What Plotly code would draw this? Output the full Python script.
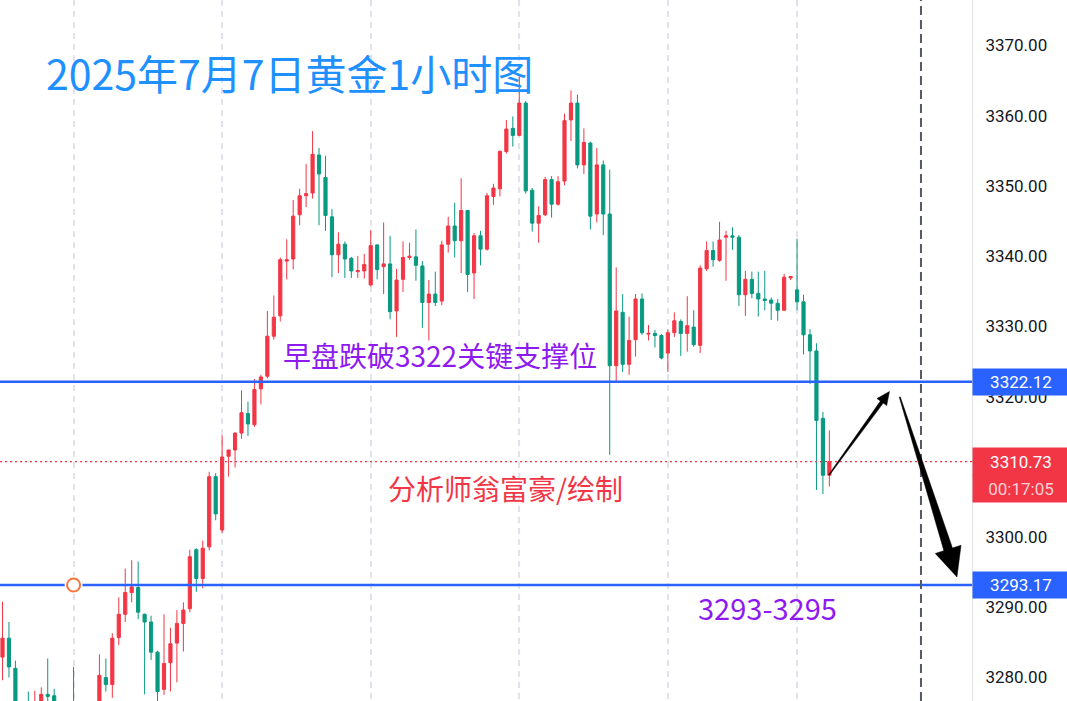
import math
import plotly.graph_objects as go

# ---- data: 1-hour gold bars (bar index 0..128) ----
opens = [3282.9, 3285.6, 3281.3, 3274.8, 3276.0, 3274.5, 3275.0, 3277.6, 3277.4, 3275.5,
         3273.0, 3276.2, 3273.5, 3272.0, 3274.0, 3275.5, 3280.0, 3279.0, 3285.7, 3289.0,
         3292.1, 3292.8, 3289.0, 3287.9, 3283.6, 3278.3, 3282.1, 3284.9, 3287.7, 3289.8,
         3298.2, 3294.1, 3298.6, 3308.6, 3301.0, 3311.5, 3312.4, 3314.8, 3317.6, 3316.0,
         3321.1, 3322.9, 3328.6, 3331.5, 3339.3, 3339.6, 3345.9, 3348.6, 3349.0, 3354.4,
         3351.2, 3345.6, 3340.2, 3341.7, 3339.7, 3337.8, 3337.9, 3335.9, 3341.6, 3338.5,
         3338.9, 3332.2, 3336.7, 3339.8, 3339.9, 3338.6, 3333.4, 3334.6, 3333.6, 3341.7,
         3344.3, 3342.2, 3346.5, 3337.6, 3342.9, 3341.0, 3348.5, 3349.6, 3354.9, 3358.2,
         3357.2, 3361.8, 3349.4, 3344.7, 3345.9, 3350.9, 3347.4, 3350.7, 3359.4, 3361.8,
         3353.0, 3356.1, 3346.0, 3353.0, 3346.0, 3324.4, 3332.0, 3324.6, 3328.1, 3333.9,
         3328.9, 3329.0, 3328.7, 3326.2, 3329.1, 3330.7, 3329.0, 3329.9, 3327.3, 3338.2,
         3340.8, 3339.4, 3342.7, 3342.9, 3342.7, 3334.5, 3336.7, 3334.7, 3333.9, 3333.75,
         3333.3, 3332.3, 3336.9, 3335.2, 3333.5, 3328.8, 3326.5, 3316.9, 3308.8]
highs = [3290.8, 3287.9, 3282.4, 3276.0, 3278.0, 3278.1, 3278.6, 3282.7, 3278.4, 3276.3,
         3276.0, 3281.5, 3275.8, 3275.5, 3276.2, 3283.3, 3282.7, 3286.3, 3291.4, 3295.5,
         3296.7, 3296.5, 3289.1, 3288.8, 3283.8, 3289.0, 3287.1, 3289.6, 3290.7, 3298.2,
         3298.4, 3299.5, 3309.3, 3309.1, 3314.5, 3312.4, 3314.9, 3320.9, 3319.3, 3322.5,
         3323.1, 3332.2, 3334.4, 3339.8, 3342.4, 3348.0, 3349.6, 3353.1, 3357.8, 3355.4,
         3354.3, 3346.7, 3343.4, 3342.1, 3339.9, 3340.0, 3340.3, 3343.7, 3341.7, 3344.8,
         3342.9, 3338.2, 3342.1, 3341.9, 3343.8, 3339.3, 3336.6, 3337.8, 3342.2, 3345.6,
         3347.6, 3351.1, 3346.6, 3343.3, 3343.6, 3349.0, 3350.3, 3355.1, 3359.4, 3359.9,
         3365.6, 3362.1, 3349.7, 3347.1, 3351.3, 3351.4, 3351.4, 3360.3, 3363.6, 3363.0,
         3358.2, 3356.3, 3355.4, 3353.6, 3352.3, 3338.4, 3334.6, 3331.4, 3334.6, 3334.7,
         3330.2, 3329.5, 3328.9, 3329.6, 3332.0, 3331.0, 3334.3, 3332.3, 3338.7, 3342.1,
         3342.1, 3344.9, 3343.6, 3344.1, 3343.0, 3337.9, 3337.8, 3337.8, 3337.9, 3334.1,
         3333.9, 3337.5, 3337.1, 3342.5, 3334.5, 3329.6, 3327.6, 3317.8, 3315.2]
lows = [3279.6, 3280.0, 3273.5, 3271.5, 3273.0, 3273.5, 3274.0, 3275.5, 3274.5, 3272.0,
        3271.0, 3272.5, 3271.0, 3270.5, 3272.5, 3274.5, 3278.0, 3277.1, 3284.6, 3287.9,
        3290.7, 3288.3, 3277.6, 3282.5, 3276.3, 3277.5, 3278.0, 3279.3, 3283.7, 3289.3,
        3292.2, 3292.7, 3298.1, 3302.4, 3300.6, 3308.6, 3309.9, 3314.0, 3314.4, 3315.7,
        3318.9, 3322.6, 3328.1, 3330.7, 3336.7, 3338.1, 3344.4, 3347.0, 3348.2, 3344.4,
        3343.6, 3337.0, 3337.6, 3336.9, 3336.9, 3336.9, 3336.8, 3335.7, 3336.7, 3334.6,
        3331.0, 3328.5, 3334.9, 3339.5, 3336.5, 3329.8, 3328.0, 3332.9, 3333.0, 3340.5,
        3339.8, 3337.6, 3334.9, 3333.9, 3338.7, 3340.8, 3347.3, 3348.5, 3354.6, 3355.6,
        3357.1, 3348.9, 3343.5, 3341.9, 3345.7, 3345.5, 3347.2, 3350.1, 3356.4, 3352.5,
        3351.7, 3343.8, 3344.8, 3343.0, 3311.7, 3322.1, 3323.5, 3323.1, 3325.7, 3328.8,
        3328.0, 3327.0, 3325.3, 3323.5, 3328.5, 3325.8, 3326.4, 3327.1, 3326.2, 3337.9,
        3338.5, 3339.2, 3336.5, 3340.9, 3332.9, 3331.5, 3334.0, 3331.4, 3332.3, 3330.9,
        3330.8, 3332.2, 3336.6, 3332.3, 3326.0, 3321.8, 3306.7, 3306.1, 3307.2]
closes = [3285.6, 3281.5, 3274.8, 3272.5, 3274.0, 3276.2, 3277.6, 3277.3, 3275.5, 3273.0,
          3274.5, 3273.5, 3272.0, 3274.0, 3275.0, 3280.3, 3279.0, 3285.6, 3289.0, 3292.1,
          3292.9, 3289.3, 3287.9, 3283.6, 3278.0, 3282.0, 3284.8, 3287.7, 3289.6, 3297.2,
          3294.1, 3298.4, 3308.6, 3303.3, 3311.4, 3312.4, 3314.8, 3317.7, 3316.1, 3321.0,
          3322.8, 3328.6, 3331.3, 3339.5, 3339.5, 3345.7, 3348.6, 3348.9, 3354.5, 3351.7,
          3345.8, 3340.2, 3341.7, 3339.6, 3337.9, 3337.95, 3338.8, 3341.5, 3338.1, 3338.9,
          3332.1, 3336.6, 3339.8, 3340.0, 3338.7, 3333.4, 3334.6, 3333.4, 3341.6, 3344.3,
          3342.2, 3346.5, 3337.4, 3342.9, 3341.0, 3348.6, 3349.7, 3354.9, 3358.1, 3357.2,
          3361.8, 3349.3, 3344.7, 3345.8, 3350.9, 3347.4, 3350.6, 3359.3, 3361.8, 3353.0,
          3356.2, 3345.7, 3353.0, 3346.0, 3324.4, 3332.2, 3324.6, 3328.0, 3333.9, 3329.1,
          3329.0, 3328.7, 3325.5, 3329.1, 3330.8, 3329.0, 3330.1, 3327.4, 3338.3, 3340.8,
          3339.5, 3342.3, 3342.9, 3342.7, 3334.5, 3336.7, 3334.7, 3333.9, 3333.7, 3333.3,
          3332.3, 3337.0, 3337.1, 3333.5, 3328.8, 3326.5, 3316.6, 3308.8, 3310.73]
bars = list(range(len(closes)))

day_starts = [11, 34, 57, 80, 103, 123]          # daily separators (bar index)
price_ticks = [3280, 3290, 3300, 3310, 3320, 3330, 3340, 3350, 3360, 3370]
support_levels = [3322.12, 3293.17]
last_price = 3310.73
countdown = "00:17:05"
marker_bar = 11                                 # orange anchor on 3293.17 line
future_line_bar = 142.18                        # dark dashed vertical line
arrow_up = [(127.94, 3308.83), (137.3, 3320.72)]
arrow_down = [(138.9, 3319.94), (147.75, 3294.31)]

title_text = "2025年7月7日黄金1小时图"
note_break = "早盘跌破3322关键支撑位"
note_author = "分析师翁富豪/绘制"
note_target = "3293-3295"

# ---- geometry ----
W, H = 1067, 701
MR = 95
PW, PH = W - MR, H
xmin, xmax = -0.387, 150.08
ymin, ymax = 3276.65, 3376.48

UP = "#F23645"
DOWN = "#089981"
BLUE = "#2962FF"


def to_px(ix, p):
    return ((ix - xmin) / (xmax - xmin) * PW, (ymax - p) / (ymax - ymin) * PH)


def to_data(px, py):
    return (xmin + px / PW * (xmax - xmin), ymax - py / PH * (ymax - ymin))


def arrow_path(start, tip, w0, w1, head_len, head_w):
    sx, sy = to_px(*start)
    tx, ty = to_px(*tip)
    dx, dy = tx - sx, ty - sy
    L = math.hypot(dx, dy)
    ux, uy = dx / L, dy / L
    nx, ny = -uy, ux
    bx, by = tx - ux * head_len, ty - uy * head_len
    pts = [
        (sx - nx * w0 / 2, sy - ny * w0 / 2),
        (bx - nx * w1 / 2, by - ny * w1 / 2),
        (bx - nx * head_w / 2, by - ny * head_w / 2),
        (tx, ty),
        (bx + nx * head_w / 2, by + ny * head_w / 2),
        (bx + nx * w1 / 2, by + ny * w1 / 2),
        (sx + nx * w0 / 2, sy + ny * w0 / 2),
    ]
    d = []
    for k, (px, py) in enumerate(pts):
        x, y = to_data(px, py)
        d.append(("M" if k == 0 else "L") + f"{x:.4f},{y:.4f}")
    return " ".join(d) + " Z"


fig = go.Figure()
fig.add_trace(go.Candlestick(
    x=bars, open=opens, high=highs, low=lows, close=closes,
    increasing=dict(line=dict(color=UP, width=1), fillcolor=UP),
    decreasing=dict(line=dict(color=DOWN, width=1), fillcolor=DOWN),
    whiskerwidth=0, hoverinfo="skip", showlegend=False,
))

shapes = []
for lvl in support_levels:
    shapes.append(dict(type="line", xref="paper", yref="y", x0=0, x1=1, y0=lvl, y1=lvl,
                       line=dict(color=BLUE, width=2.5), layer="above"))
shapes.append(dict(type="line", xref="paper", yref="y", x0=0, x1=1, y0=last_price, y1=last_price,
                   line=dict(color=UP, width=1.3, dash="2px,3px"), layer="above"))
shapes.append(dict(type="line", xref="x", yref="paper", x0=future_line_bar, x1=future_line_bar,
                   y0=0, y1=1, line=dict(color="#555A66", width=2, dash="9px,5px"), layer="above"))
# anchor circle
shapes.append(dict(type="circle", xref="x", yref="y", xsizemode="pixel", ysizemode="pixel",
                   xanchor=marker_bar, yanchor=support_levels[1], x0=-9, x1=9, y0=-9, y1=9,
                   fillcolor="white", line=dict(width=0)))
shapes.append(dict(type="circle", xref="x", yref="y", xsizemode="pixel", ysizemode="pixel",
                   xanchor=marker_bar, yanchor=support_levels[1], x0=-6.5, x1=6.5, y0=-6.5, y1=6.5,
                   fillcolor="white", line=dict(color="#F7743D", width=2)))
# arrows
shapes.append(dict(type="path", xref="x", yref="y",
                   path=arrow_path(arrow_up[0], arrow_up[1], 1.0, 3.5, 13, 12),
                   fillcolor="black", line=dict(color="black", width=0.5)))
shapes.append(dict(type="path", xref="x", yref="y",
                   path=arrow_path(arrow_down[0], arrow_down[1], 1.0, 9, 29, 27),
                   fillcolor="black", line=dict(color="black", width=0.5)))
fig.update_layout(shapes=shapes)

ann = []
CJK = "Noto Sans CJK SC"
ann.append(dict(text=title_text, xref="paper", yref="paper", x=44 / PW, y=1 - 72 / PH,
                xanchor="left", yanchor="middle", showarrow=False,
                font=dict(family=CJK, size=41, color="#1E90FF")))
ann.append(dict(text=note_break, xref="paper", yref="paper", x=281 / PW, y=1 - 355 / PH,
                xanchor="left", yanchor="middle", showarrow=False,
                font=dict(family=CJK, size=28, color="#8E1AF0")))
ann.append(dict(text=note_author, xref="paper", yref="paper", x=386 / PW, y=1 - 488 / PH,
                xanchor="left", yanchor="middle", showarrow=False,
                font=dict(family=CJK, size=28, color="#F23645")))
ann.append(dict(text=note_target, xref="paper", yref="paper", x=696 / PW, y=1 - 607 / PH,
                xanchor="left", yanchor="middle", showarrow=False,
                font=dict(family=CJK, size=29, color="#8E1AF0")))

LBL = "Roboto"
for lvl in support_levels:
    ann.append(dict(text=f"{lvl:.2f}", xref="paper", yref="y", x=1, y=lvl, xanchor="left",
                    yanchor="middle", showarrow=False, width=96, height=26, borderpad=0,
                    bgcolor=BLUE, font=dict(family=LBL, size=17, color="white")))
ann.append(dict(text=f"{last_price:.2f}", xref="paper", yref="y", x=1, y=last_price, xanchor="left",
                yanchor="middle", showarrow=False, width=96, height=27, borderpad=0,
                bgcolor=UP, font=dict(family=LBL, size=17, color="white")))
ann.append(dict(text=countdown, xref="paper", yref="y", x=1, y=last_price, yshift=-27, xanchor="left",
                yanchor="middle", showarrow=False, width=96, height=27, borderpad=0,
                bgcolor=UP, font=dict(family=LBL, size=17, color="#FAD0D5")))

fig.update_layout(
    annotations=ann,
    width=W, height=H,
    margin=dict(l=0, r=MR, t=0, b=0),
    paper_bgcolor="white", plot_bgcolor="white",
    showlegend=False, hovermode=False,
    xaxis=dict(range=[xmin, xmax], tickvals=day_starts, showticklabels=False, ticks="",
               showgrid=True, gridcolor="#E0E3EB", gridwidth=1.5, griddash="6px,5px",
               zeroline=False, showline=False, rangeslider=dict(visible=False), fixedrange=True),
    yaxis=dict(range=[ymin, ymax], side="right", tickvals=price_ticks,
               ticktext=[f"{v:.2f}" for v in price_ticks], ticks="", showgrid=False,
               zeroline=False, showline=True, linecolor="#E0E3EB", linewidth=1,
               ticklabelstandoff=9, tickfont=dict(family=LBL, size=17, color="#131722"),
               fixedrange=True),
)

fig.write_html("out.html", config={"displayModeBar": False},
               post_script="document.body.style.margin='0';document.body.style.padding='0';")
